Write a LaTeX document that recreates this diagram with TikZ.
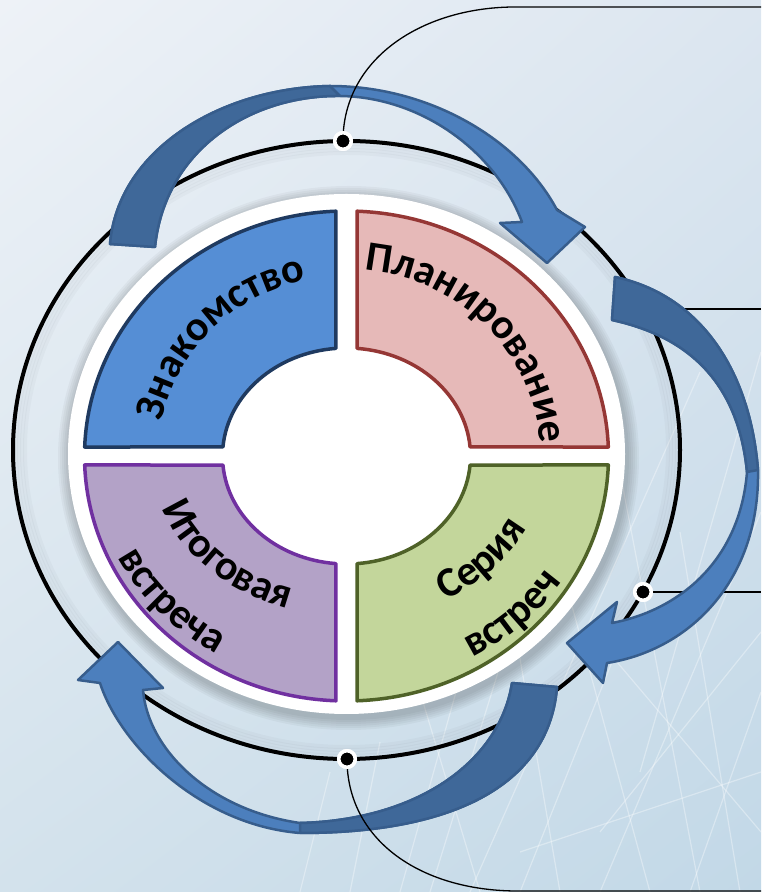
\documentclass[tikz,border=0pt]{standalone}
\usepackage{fontspec}
\setmainfont{Carlito}
\usetikzlibrary{decorations.text,shadings}

\definecolor{bgtl}{HTML}{EEF2F7}
\definecolor{bgtr}{HTML}{DCE6F0}
\definecolor{bgbl}{HTML}{D3E2EC}
\definecolor{bgbr}{HTML}{C2D8E7}
\definecolor{arrowfill}{HTML}{4C7FBD}
\definecolor{arrowdark}{HTML}{3F6899}
\definecolor{arrowline}{HTML}{375D8C}
\definecolor{meetfill}{HTML}{558ED5}
\definecolor{meetline}{HTML}{1F3A60}
\definecolor{planfill}{HTML}{E6B9B8}
\definecolor{planline}{HTML}{953735}
\definecolor{seriesfill}{HTML}{C3D69B}
\definecolor{seriesline}{HTML}{4F6228}
\definecolor{finalfill}{HTML}{B3A2C7}
\definecolor{finalline}{HTML}{7030A0}

\newcommand{\segfont}{\bfseries\fontsize{42}{50}\selectfont}

\begin{document}
\begin{tikzpicture}[x=1pt, y=1pt,
  ring/.style={line width=4pt},
  callout/.style={line width=1.3pt},
  streak/.style={white, opacity=0.35, line width=1.2pt},
  dot/.style={circle, fill=black, draw=white, line width=3.5pt, minimum size=16.5pt, inner sep=0pt},
  arrowfront/.style={fill=arrowfill, draw=arrowline, line width=2.5pt, line join=round},
  arrowback/.style={fill=arrowdark, draw=arrowline, line width=2.5pt, line join=round},
  segment/.style={line width=3.5pt, line join=round},
  segtext/.style={decorate, decoration={text along path, text align=center, text={|\segfont|#1}}}
]
  % Draw background
  \shade[upper left=bgtl, upper right=bgtr, lower left=bgbl, lower right=bgbr] (0,0) rectangle (761,892);
  \useasboundingbox (0,0) rectangle (761,892);
  \foreach \ax/\ay/\bx/\by in {430/0/560/420, 470/0/700/520, 520/0/640/300, 560/0/500/350,
      600/0/761/380, 650/0/560/330, 690/0/761/200, 700/0/620/420, 740/0/680/360,
      400/0/470/250, 600/60/761/260, 520/40/761/120, 640/120/761/540, 350/0/380/150,
      480/0/420/200, 300/0/330/120, 761/60/600/250}
    \draw[streak] (\ax,\ay) -- (\bx,\by);

  % Draw centres
  \coordinate (C) at (346.5,436);
  \coordinate (R) at (346.5,442);
  \coordinate (W) at (346.5,438);

  % Draw outer ring
  \foreach \k in {1,...,4}
    \draw[black, opacity=0.025, line width=4pt] (R) ellipse [x radius=333.5-3*\k, y radius=309-3*\k];
  \draw[ring] (R) ellipse [x radius=333.5, y radius=309];

  % Draw callouts under the arrows
  \node[dot] (d2) at (642,583) {};
  \node[dot] (d3) at (643,300) {};
  \coordinate (e2) at (761,583);
  \coordinate (e3) at (761,300);
  \draw[callout] (d2.center) -- (e2);
  \draw[callout] (d3.center) -- (e3);
  \node[dot] at (d3) {};

  % Draw white disk
  \foreach \k in {1,...,6}
    \fill[black, opacity=0.035] ([shift={(2,-4)}]W) ellipse [x radius=278.5+2*\k, y radius=260+2*\k];
  \fill[white] (W) ellipse [x radius=278.5, y radius=260];

  % Draw segments
  \begin{scope}[shift={(C)}]
    \foreach \s/\e/\is/\ie/\fc/\dc in {2.1/87.7/85.1/4.8/planfill/planline,
        92.3/177.9/175.2/94.9/meetfill/meetline,
        182.1/267.7/265.1/184.8/finalfill/finalline,
        272.3/357.9/355.2/274.9/seriesfill/seriesline}
      \draw[segment, fill=\fc, draw=\dc] (\s:262 and 245)
        arc[start angle=\s, end angle=\e, x radius=262, y radius=245]
        -- (\is:124 and 108)
        arc[start angle=\is, end angle=\ie, x radius=124, y radius=108] -- cycle;

    % Draw labels
    \path[segtext=Знакомство] (186:188 and 180) arc[start angle=186, end angle=86, x radius=188, y radius=180];
    \path[segtext=Планирование] (98.5:194 and 187) arc[start angle=98.5, end angle=-10.5, x radius=194, y radius=187];
    \path[segtext=Итоговая] (168:195 and 160) arc[start angle=168, end angle=278, x radius=195, y radius=160];
    \path[segtext=встреча] (166:255 and 230) arc[start angle=166, end angle=276, x radius=255, y radius=230];
    \path[segtext=Серия] (265:200 and 166) arc[start angle=265, end angle=375, x radius=200, y radius=166];
    \path[segtext=встреч] (260:257 and 231) arc[start angle=260, end angle=370, x radius=257, y radius=231];
  \end{scope}

  % Draw arrows
  \draw[arrowfront] (110,648) .. controls (118,742) and (220,804) .. (330,806)
    .. controls (430,806) and (520,752) .. (557,682) -- (585,665) -- (547,629) -- (500,669) -- (522,670)
    .. controls (495,742) and (420,795) .. (340,796) .. controls (250,797) and (165,742) .. (155,645) -- cycle;
  \draw[arrowback] (110,648) .. controls (118,742) and (220,804) .. (330,806) -- (340,796)
    .. controls (250,797) and (165,742) .. (155,645) -- cycle;

  \draw[arrowfront] (615,615) .. controls (700,597) and (750,522) .. (758,422)
    .. controls (760,312) and (690,242) .. (607,229) -- (603,209) -- (567,249) -- (617,290) -- (612,269)
    .. controls (680,282) and (740,332) .. (747,420) .. controls (740,492) and (705,552) .. (612,572) -- cycle;
  \draw[arrowback] (615,615) .. controls (700,597) and (750,522) .. (758,422) -- (747,420)
    .. controls (740,492) and (705,552) .. (612,572) -- cycle;

  \draw[arrowfront] (557,205) .. controls (550,117) and (470,59) .. (300,59)
    .. controls (200,67) and (120,147) .. (100,209) -- (78,212) -- (118,250) -- (163,204) -- (143,202)
    .. controls (148,142) and (210,82) .. (300,69) .. controls (420,72) and (500,132) .. (512,209) -- cycle;
  \draw[arrowback] (557,205) .. controls (550,117) and (470,59) .. (300,59) -- (300,69)
    .. controls (420,72) and (500,132) .. (512,209) -- cycle;

  % Draw callouts over the arrows
  \node[dot] (d1) at (343,751) {};
  \node[dot] (d4) at (347,133) {};
  \coordinate (e1) at (761,885);
  \coordinate (e4) at (761,1);
  \draw[callout] (d1.center) .. controls (343,832) and (420,884) .. (513,885) -- (e1);
  \draw[callout] (d4.center) .. controls (347,52) and (420,2) .. (515,1) -- (e4);
  \node[dot] at (d1) {};
  \node[dot] at (d4) {};
\end{tikzpicture}
\end{document}
